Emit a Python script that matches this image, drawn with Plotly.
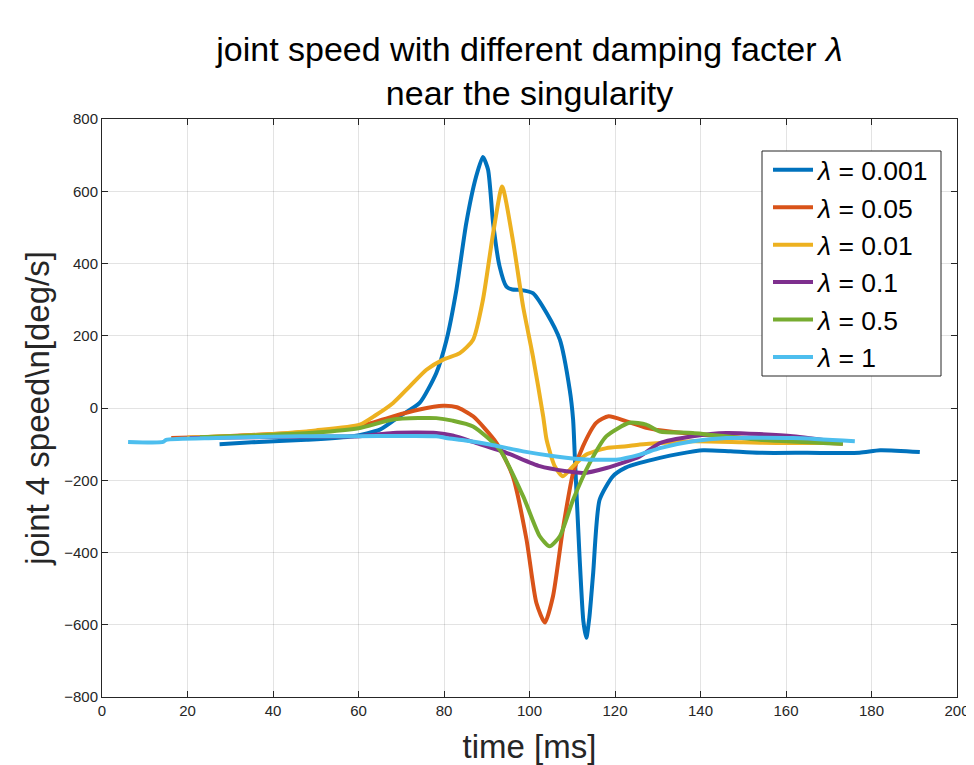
import plotly.graph_objects as go

# time [ms] and joint 4 speed [deg/s] for each damping factor
t_0001 = [27.5, 35, 47.8, 58.7, 65, 69.6, 74.3, 78.2, 80.6, 82.9, 85.2, 87.5, 89.1, 90.3, 91.5, 93.0, 94.6, 96.0, 97.7, 100.8, 104.0, 107.1, 109.4, 110.2, 110.6, 111.7, 112.6, 113.3, 114.0, 114.9, 116.4, 119.5, 122.5, 125.8, 130.5, 135, 140.6, 147, 153.8, 165, 177.2, 182.0, 191.3]
v_0001 = [-100, -95, -88, -78, -60, -23, 14, 97, 189, 327, 511, 640, 695, 660, 511, 392, 336, 328, 327, 318, 263, 189, 51, -32, -134, -410, -590, -636, -580, -456, -254, -189, -165, -152, -138, -127, -117, -120, -124, -124, -124, -117, -122]

t_005 = [16.2, 25, 40, 50, 60, 68.1, 74, 79.8, 83, 86.8, 92.3, 96.1, 99.3, 101.6, 103.6, 105.5, 107.8, 110.2, 112.5, 115.6, 118.5, 122.7, 127.3, 132.8, 145, 160, 173.3]
v_005 = [-83, -80, -72, -64, -52, -23, -5, 6, 2, -23, -97, -189, -364, -539, -594, -521, -336, -180, -106, -41, -23, -37, -55, -65, -78, -90, -99]

t_001 = [20, 30, 40, 50, 60.3, 64, 68.1, 72, 75.9, 79.8, 83.7, 86.8, 89.1, 91.5, 93.6, 96.1, 98.5, 100.8, 103.2, 104.0, 105.9, 107.8, 110.2, 113.3, 118.0, 122.7, 125.8, 138.2, 150, 157.8, 172]
v_001 = [-82, -78, -72, -62, -46, -20, 14, 60, 106, 134, 152, 189, 299, 484, 613, 465, 281, 143, -23, -88, -161, -189, -161, -129, -111, -106, -101, -92, -95, -97, -97]

t_01 = [20.5, 30, 40, 50, 60.3, 68.1, 78.2, 82, 87.6, 94.6, 102.4, 108.6, 112.5, 118.0, 125.8, 130.5, 138.2, 146.1, 161.6, 172.6]
v_01 = [-83, -82, -80, -79, -78, -69, -69, -76, -97, -124, -161, -175, -180, -166, -134, -97, -78, -69, -78, -95]

t_05 = [22.9, 30, 40, 50, 60, 68.1, 74, 78.2, 82, 86.8, 93.0, 98.5, 102.4, 104.7, 107.1, 110.2, 114.1, 118.0, 123.4, 127.3, 130.5, 138.2, 153.8, 173.3]
v_05 = [-81, -78, -74, -68, -56, -32, -28, -28, -35, -51, -115, -244, -355, -383, -355, -254, -152, -78, -41, -46, -65, -69, -88, -99]

t_1 = [6.1, 14.3, 15.0, 26.8, 46.2, 60, 78.2, 80.5, 85, 90.7, 98.5, 106.2, 114.1, 118.8, 120.3, 125.8, 130.5, 138.2, 146.1, 161.6, 176.1]
v_1 = [-94, -94, -88, -83, -78, -78, -78, -83, -90, -101, -120, -134, -143, -143, -143, -129, -111, -92, -83, -83, -92]

labels = ["0.001", "0.05", "0.01", "0.1", "0.5", "1"]
colors = ["#0072BD", "#D95319", "#EDB120", "#7E2F8E", "#77AC30", "#4DBEEE"]
series = [(t_0001, v_0001), (t_005, v_005), (t_001, v_001), (t_01, v_01), (t_05, v_05), (t_1, v_1)]

x_ticks = [0, 20, 40, 60, 80, 100, 120, 140, 160, 180, 200]
y_ticks = [-800, -600, -400, -200, 0, 200, 400, 600, 800]

FONT = "Liberation Sans, Arial"

# page body has an 8px margin, so the figure is sized/placed to compensate
W, H = 966, 757
PL, PR, PT, PB = 94, 17, 111, 68
OFF = 8
PLOT_W = W - PL - PR
PLOT_H = H - PT - PB


def px(sx):
    return (sx - OFF - PL) / PLOT_W


def py(sy):
    return (H - PB - (sy - OFF)) / PLOT_H


fig = go.Figure()
for (t, v), lab, col in zip(series, labels, colors):
    fig.add_trace(go.Scatter(
        x=t, y=v, mode="lines", name="<i>λ</i> = " + lab,
        line=dict(color=col, width=4, shape="spline", smoothing=0.6),
    ))

axis_common = dict(
    showline=True, linecolor="#262626", linewidth=1, mirror="ticks",
    ticks="inside", ticklen=6, tickcolor="#262626",
    showgrid=True, gridcolor="rgba(0,0,0,0.11)", gridwidth=1,
    zeroline=False, automargin=False,
    tickfont=dict(family=FONT, size=15, color="#262626"),
)

fig.update_layout(
    width=W, height=H,
    paper_bgcolor="white", plot_bgcolor="white",
    margin=dict(l=PL, r=PR, t=PT, b=PB),
    font=dict(family=FONT, color="#000000"),
    title=dict(
        text="joint speed with different damping facter <i>λ</i><br>near the singularity",
        x=(529.5 - OFF) / W, xanchor="center",
        y=1 - 53 / H, yanchor="top", yref="container",
        font=dict(size=34, color="black", family=FONT),
    ),
    xaxis=dict(
        range=[0, 200], tickvals=x_ticks,
        title=dict(text="time [ms]", font=dict(size=33, color="#262626"), standoff=16),
        **axis_common,
    ),
    yaxis=dict(
        range=[-800, 800], tickvals=y_ticks,
        title=dict(text="joint 4 speed\\n[deg/s]", font=dict(size=33, color="#262626"), standoff=4),
        **axis_common,
    ),
    legend=dict(
        x=px(768), y=py(146), xanchor="left", yanchor="top",
        bgcolor="rgba(0,0,0,0)", borderwidth=0,
        font=dict(size=26.5, color="black", family=FONT),
        tracegroupgap=0, itemwidth=40,
    ),
    shapes=[dict(
        type="rect", xref="paper", yref="paper",
        x0=px(762), x1=px(941), y0=py(376), y1=py(151),
        line=dict(color="#262626", width=1), fillcolor="white", layer="above",
    )],
    showlegend=True,
)

fig.write_html("out.html")
